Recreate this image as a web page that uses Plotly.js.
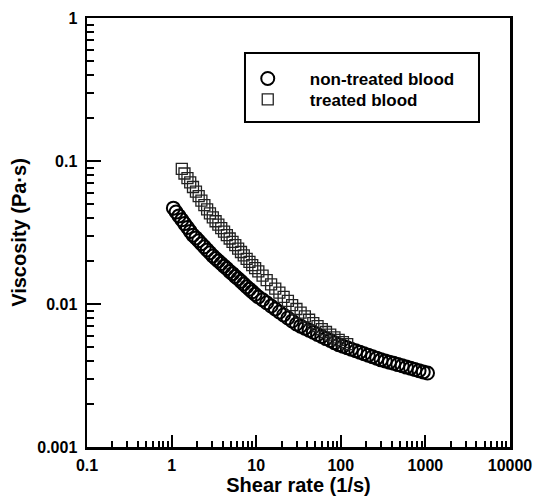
<!DOCTYPE html>
<html>
<head>
<meta charset="utf-8">
<script src="https://cdn.plot.ly/plotly-3.0.1.min.js"></script>
<style>html,body{margin:0;padding:0;background:#fff;}#chart{width:535px;height:500px;}</style>
</head>
<body>
<div id="chart"></div>
<script>
// Shear rate (1/s) and viscosity (Pa·s)
var shearNonTreated = [1.05,1.13,1.22,1.32,1.42,1.54,1.66,1.79,1.94,2.09,
  2.25,2.44,2.63,2.84,3.07,3.31,3.57,3.86,4.17,4.50,
  4.86,5.25,5.66,6.12,6.61,7.13,7.71,8.32,8.97,9.71,
  10.6,11.9,13.3,15.0,16.8,18.8,21.1,23.7,26.6,29.9,
  33.5,37.6,42.2,47.3,53.1,59.6,66.8,75.0,84.1,94.4,
  106,119,133,150,168,188,211,237,266,299,
  335,376,422,473,531,596,668,750,841,944,1059];
var viscNonTreated = [0.0468,0.0440,0.0413,0.0388,0.0365,0.0343,0.0322,0.0303,0.0290,0.0277,
  0.0264,0.0251,0.0239,0.0228,0.0217,0.0208,0.0200,0.0192,0.0184,0.0177,
  0.0169,0.0163,0.0156,0.0150,0.0144,0.0138,0.0132,0.0127,0.0122,0.0117,
  0.0112,0.0107,0.0102,0.00968,0.00923,0.00879,0.00838,0.00798,0.00760,0.00724,
  0.00700,0.00678,0.00655,0.00634,0.00612,0.00593,0.00573,0.00555,0.00536,0.00519,
  0.00507,0.00494,0.00483,0.00471,0.00460,0.00449,0.00439,0.00428,0.00418,0.00407,
  0.00400,0.00392,0.00385,0.00377,0.00370,0.00362,0.00356,0.00348,0.00342,0.00335,0.00329];

var shearTreated = [1.32,1.42,1.54,1.66,1.79,1.94,2.09,
  2.25,2.44,2.63,2.84,3.07,3.31,3.57,3.86,4.17,4.50,
  4.86,5.25,5.66,6.12,6.61,7.13,7.71,8.32,8.97,9.71,
  10.6,11.9,13.3,15.0,16.8,18.8,21.1,23.7,26.6,29.9,
  33.5,37.6,42.2,47.3,53.1,59.6,66.8,75.0,84.1,94.4,106,119];
var viscTreated = [0.0881,0.0818,0.0760,0.0708,0.0658,0.0610,0.0568,
  0.0528,0.0492,0.0459,0.0430,0.0403,0.0379,0.0359,0.0339,0.0321,0.0303,
  0.0287,0.0272,0.0258,0.0244,0.0231,0.0219,0.0207,0.0197,0.0187,0.0178,
  0.0169,0.0158,0.0147,0.0137,0.0128,0.0120,0.0112,0.0105,0.00982,0.00923,
  0.00869,0.00820,0.00776,0.00736,0.00700,0.00667,0.00637,0.00610,0.00585,0.00562,0.00542,0.00524];

var seriesNames = ['non-treated blood', 'treated blood'];
var xTickVals = [0.1, 1, 10, 100, 1000, 10000];
var xTickText = ['0.1', '1', '10', '100', '1000', '10000'];
var yTickVals = [0.001, 0.01, 0.1, 1];
var yTickText = ['0.001', '0.01', '0.1', '1'];
var xTitle = 'Shear rate (1/s)';
var yTitle = 'Viscosity (Pa·s)';

function minorTicks(decades) {
  var out = [];
  decades.forEach(function (d) { for (var m = 2; m <= 9; m++) out.push(d * m); });
  return out;
}

var FONT = '"Liberation Sans", Arial, Helvetica, sans-serif';

var traces = [
  {
    x: shearNonTreated, y: viscNonTreated, name: seriesNames[0],
    type: 'scatter', mode: 'markers', legend: 'legend',
    marker: { symbol: 'circle-open', size: 13, color: '#000', line: { width: 2, color: '#000' } }
  },
  {
    x: shearTreated, y: viscTreated, name: seriesNames[1],
    type: 'scatter', mode: 'markers', legend: 'legend2',
    marker: { symbol: 'square-open', size: 11, color: '#222', line: { width: 1.3, color: '#222' } }
  }
];

var axisCommon = {
  type: 'log',
  showgrid: false, zeroline: false,
  showline: true, linecolor: '#000', linewidth: 2.5, mirror: true,
  ticks: 'inside', ticklen: 12, tickwidth: 2, tickcolor: '#000',
  tickmode: 'array',
  tickfont: { family: FONT, size: 16, color: '#000', weight: 'bold' }
};

var legendCommon = {
  xanchor: 'left', yanchor: 'top',
  bgcolor: 'rgba(0,0,0,0)', borderwidth: 0,
  itemwidth: 74,
  font: { family: FONT, size: 17, color: '#000', weight: 'bold' }
};

var layout = {
  width: 535, height: 500,
  margin: { l: 87, r: 25, t: 18, b: 53 },
  paper_bgcolor: '#fff', plot_bgcolor: '#fff',
  showlegend: true,
  xaxis: Object.assign({}, axisCommon, {
    range: [-1, 4],
    tickvals: xTickVals, ticktext: xTickText,
    ticklabelstandoff: 2,
    minor: { tickvals: minorTicks([0.1, 1, 10, 100, 1000]), ticks: 'inside', ticklen: 6, tickwidth: 2, tickcolor: '#000', showgrid: false },
    title: { text: xTitle, font: { family: FONT, size: 20, color: '#000', weight: 'bold' }, standoff: 4 }
  }),
  yaxis: Object.assign({}, axisCommon, {
    range: [-3, 0],
    tickvals: yTickVals, ticktext: yTickText,
    ticklabelstandoff: 4,
    ticklen: 14,
    minor: { tickvals: minorTicks([0.001, 0.01, 0.1]), ticks: 'inside', ticklen: 7, tickwidth: 2, tickcolor: '#000', showgrid: false },
    title: { text: yTitle, font: { family: FONT, size: 20, color: '#000', weight: 'bold' }, standoff: 6 }
  }),
  legend: Object.assign({}, legendCommon, { x: 0.328, y: 0.9 }),
  legend2: Object.assign({}, legendCommon, { x: 0.328, y: 0.851 }),
  shapes: [{
    type: 'rect', xref: 'paper', yref: 'paper',
    x0: 0.3735, x1: 0.9267, y0: 0.7576, y1: 0.9184,
    line: { color: '#000', width: 2 }, fillcolor: 'rgba(0,0,0,0)'
  }]
};

Plotly.newPlot('chart', traces, layout, { displayModeBar: false, staticPlot: true });
</script>
</body>
</html>
